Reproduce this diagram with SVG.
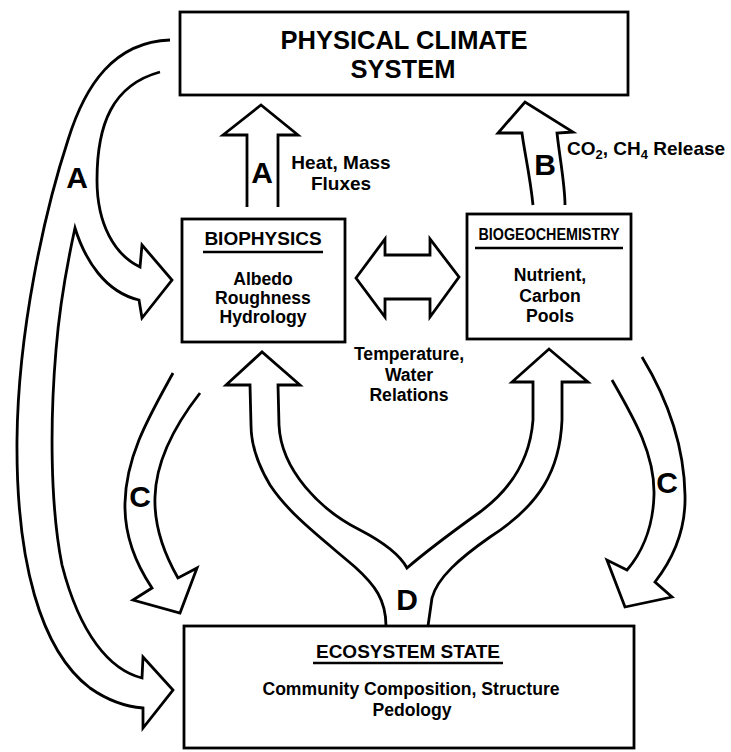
<svg xmlns="http://www.w3.org/2000/svg" width="731" height="752" viewBox="0 0 731 752">
<style>
.box{fill:#fff;stroke:#000;stroke-width:2.8}
.arr{fill:#fff;stroke:#000;stroke-width:2.8;stroke-linejoin:miter;stroke-linecap:butt}
.ul{stroke:#000;stroke-width:2.6}
text{font-family:"Liberation Sans",Arial,Helvetica,sans-serif;font-weight:bold;fill:#000;text-anchor:middle}
.title{font-size:25.5px}
.head{font-size:19px}
.body{font-size:17.6px}
.lab{font-size:19px}
.big{font-size:30px}
</style>
<rect width="731" height="752" fill="#fff"/>
<g id="connectors">
  <path id="arrow-A-left" class="arr" d="M170,40 C114,42 85,85 68,140 C45,210 18,330 17,440 C16,560 40,650 90,688 C110,702 130,707 143,708 L143,728 L173,690 L143,657 L142,678 C110,670 80,635 62,565 C50,505 50,420 56,350 C60,300 68,260 75,228 C85,260 105,292 139,300 L142,318 L172,280 L142,245 L140,267 C115,255 97,225 97,180 C97,125 112,85 160,72"/>
  <path id="arrow-A-up" class="arr" d="M247,207 L247,135 L223,135 L261,105 L298,135 L278,135 L278,207"/>
  <path id="arrow-B" class="arr" d="M533,205 C530,175 524,150 522,133 L498,133 L525,102 L573,132 L557,133 C560,160 565,185 565,205"/>
  <path id="arrow-double" class="arr" d="M356,278 L385,239 L385,255 L430,255 L430,239 L459,277 L430,317 L430,299 L385,299 L385,317 Z"/>
  <path id="arrow-C-left" class="arr" d="M173,373 C150,415 126,455 125,503 C124,540 140,570 152,588 L133,600 L180,613 L197,568 L178,578 C162,550 154,525 155,497 C156,460 175,425 200,393"/>
  <path id="arrow-C-right" class="arr" d="M612,380 C635,420 655,455 654,495 C653,530 640,555 627,570 L607,560 L625,607 L672,597 L655,582 C672,560 686,530 685,495 C684,440 665,395 642,357"/>
  <path id="arrow-D" class="arr" d="M386,626 C386,600 375,585 355,567 C320,537 290,515 270,485 C258,465 251,445 251,425 L250,385 L226,385 L262,352 L300,385 L278,385 L279,425 C281,470 320,510 360,530 C385,543 400,555 407,568 C430,548 455,530 480,512 C510,490 530,460 533,420 L533,382 L512,382 L549,349 L588,382 L562,382 L562,420 C560,470 540,505 490,537 C460,558 437,578 432,598 L428,626"/>
  <text class="big" x="77" y="188">A</text>
  <text class="big" x="262" y="183">A</text>
  <text class="big" x="545" y="175">B</text>
  <text class="big" x="140" y="507">C</text>
  <text class="big" x="667" y="493">C</text>
  <text class="big" x="407" y="610">D</text>
  <text class="lab" x="341" y="169">Heat, Mass</text>
  <text class="lab" x="341" y="190">Fluxes</text>
  <text class="lab" x="567" y="155" style="text-anchor:start">CO<tspan font-size="13" dy="4">2</tspan><tspan dy="-4">, CH</tspan><tspan font-size="13" dy="4">4</tspan><tspan dy="-4"> Release</tspan></text>
  <text class="body" x="409" y="360">Temperature,</text>
  <text class="body" x="409" y="381">Water</text>
  <text class="body" x="409" y="401">Relations</text>
</g>
<g id="physical-climate-system">
  <rect class="box" x="180" y="12" width="448" height="83"/>
  <text class="title" x="404" y="49">PHYSICAL CLIMATE</text>
  <text class="title" x="403" y="78">SYSTEM</text>
</g>
<g id="biophysics">
  <rect class="box" x="182" y="219" width="163" height="123"/>
  <text class="head" x="263" y="245">BIOPHYSICS</text>
  <line class="ul" x1="203" y1="252" x2="323" y2="252"/>
  <text class="body" x="263" y="285">Albedo</text>
  <text class="body" x="263" y="304">Roughness</text>
  <text class="body" x="263" y="323">Hydrology</text>
</g>
<g id="biogeochemistry">
  <rect class="box" x="467" y="214" width="164" height="125"/>
  <text x="549" y="240" font-size="16" textLength="141" lengthAdjust="spacingAndGlyphs">BIOGEOCHEMISTRY</text>
  <line class="ul" x1="475" y1="248" x2="623" y2="248"/>
  <text class="body" x="550" y="281">Nutrient,</text>
  <text class="body" x="550" y="302">Carbon</text>
  <text class="body" x="550" y="322">Pools</text>
</g>
<g id="ecosystem-state">
  <rect class="box" x="184" y="626" width="450" height="122"/>
  <text class="head" x="408" y="658">ECOSYSTEM STATE</text>
  <line class="ul" x1="313" y1="663" x2="503" y2="663"/>
  <text class="body" x="411" y="695">Community Composition, Structure</text>
  <text class="body" x="412" y="716">Pedology</text>
</g>
</svg>
